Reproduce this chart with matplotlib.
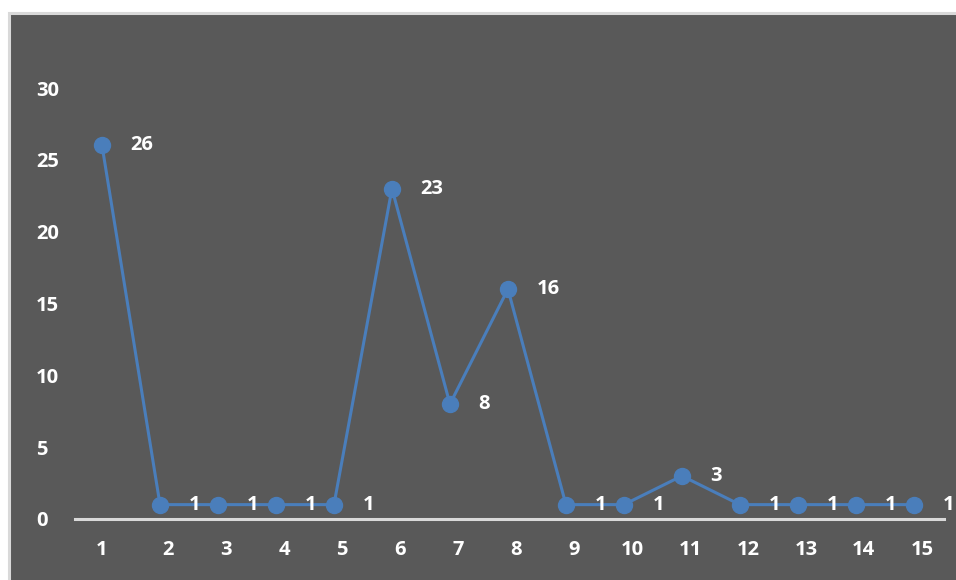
import matplotlib
matplotlib.use('Agg')
import matplotlib.pyplot as plt
import matplotlib.transforms as mtransforms
from matplotlib.patches import Rectangle

plt.rcParams['font.family'] = ['Open Sans', 'DejaVu Sans']

points = list(range(1, 16))
counts = [26, 1, 1, 1, 1, 23, 8, 16, 1, 1, 3, 1, 1, 1, 1]
x_labels = [str(p) for p in points]
y_ticks = [0, 5, 10, 15, 20, 25, 30]

bg = '#595959'
line_col = '#4a7ebb'

fig = plt.figure(figsize=(9.56, 5.80), dpi=100)
fig.patch.set_facecolor('white')

# dark panel with a light border on top/left
panel = Rectangle((8.5 / 956, -0.01), 1.0, (580 - 12.5) / 580 + 0.01,
                  transform=fig.transFigure, facecolor=bg,
                  edgecolor='#d9d9d9', linewidth=2.2, zorder=0)
fig.patches.append(panel)

ax = fig.add_axes([75 / 956, 61 / 580, (944 - 75) / 956, 431 / 580])
ax.set_zorder(2)
ax.set_facecolor('none')
ax.plot(points, counts, color=line_col, lw=2.2, marker='o', markersize=11.5,
        markerfacecolor=line_col, markeredgecolor=line_col, clip_on=False, zorder=3)

for x, v in zip(points, counts):
    ax.annotate(str(v), (x, v), xytext=(20.5, 0), textcoords='offset points',
                ha='left', va='center', color='white', fontsize=14.5,
                fontweight='bold')

ax.set_xlim(0.534, 15.52)
ax.set_ylim(0, 30)

for s in ['top', 'right', 'left']:
    ax.spines[s].set_visible(False)
ax.spines['bottom'].set_color('#d9d9d9')
ax.spines['bottom'].set_linewidth(2.2)

ax.set_xticks(points)
ax.set_xticklabels(x_labels)
ax.set_yticks(y_ticks)
ax.tick_params(axis='both', length=0, colors='white', labelsize=14.5)
ax.tick_params(axis='x', pad=15)
ax.tick_params(axis='y', pad=28)
for lab in ax.get_yticklabels():
    lab.set_horizontalalignment('left')
    lab.set_fontweight('bold')
shift = mtransforms.ScaledTranslation(8 / 100, 0, fig.dpi_scale_trans)
for i, lab in enumerate(ax.get_xticklabels()):
    lab.set_fontweight('bold')
    if i > 0:
        lab.set_transform(lab.get_transform() + shift)

fig.savefig('out.png', dpi=100, facecolor=fig.get_facecolor())
